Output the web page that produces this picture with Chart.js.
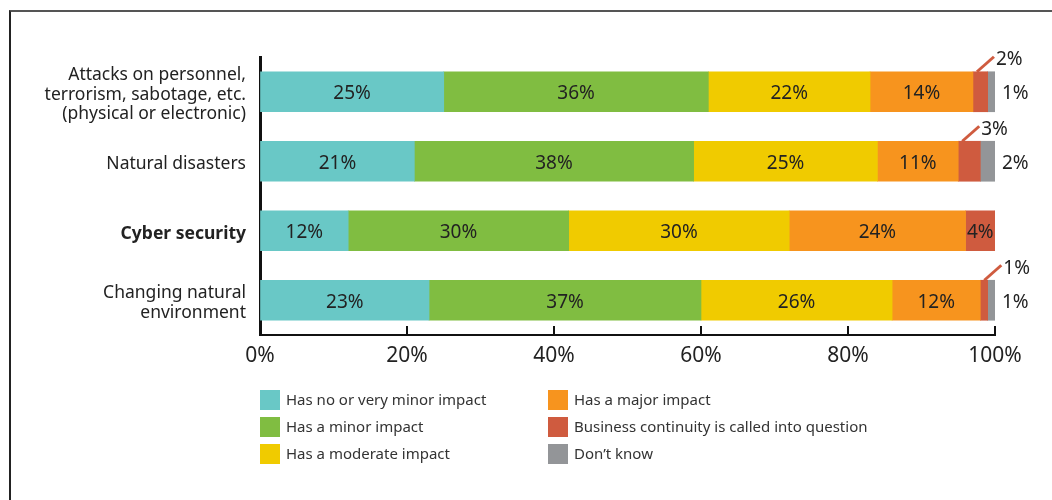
<!DOCTYPE html>
<html>
<head>
<meta charset="utf-8">
<script src="https://cdn.jsdelivr.net/npm/chart.js@4.4.0/dist/chart.umd.min.js"></script>
<style>
  body { margin: 0; background: #fff; }
  #wrap { position: relative; width: 1052px; height: 500px; }
  #frame { position: absolute; left: 9px; top: 10px; right: 0; bottom: 0;
           border-top: 2px solid #555; border-left: 2px solid #222; }
  canvas { position: absolute; left: 0; top: 0; }
</style>
</head>
<body>
<div id="wrap">
  <div id="frame"></div>
  <canvas id="myChart" width="1052" height="500"></canvas>
</div>
<script>
var FONT = "'Noto Sans', sans-serif";

// categories (top to bottom)
var categories = [
    ["Attacks on personnel,", "terrorism, sabotage, etc.", "(physical or electronic)"],
    "Natural disasters",
    "Cyber security",
    ["Changing natural", "environment"]
];

// series, values in %
var seriesNames = [
    "Has no or very minor impact",
    "Has a minor impact",
    "Has a moderate impact",
    "Has a major impact",
    "Business continuity is called into question",
    "Don\u2019t know"
];
var noImpact       = [25, 21, 12, 23];
var minorImpact    = [36, 38, 30, 37];
var moderateImpact = [22, 25, 30, 26];
var majorImpact    = [14, 11, 24, 12];
var continuity     = [2, 3, 4, 1];
var dontKnow       = [1, 2, 0, 1];

var seriesColors = ["#69c8c6", "#80bd41", "#f0cb00", "#f7941e", "#cf5b3f", "#939598"];

var xTicks = [0, 20, 40, 60, 80, 100];

var allValues = [noImpact, minorImpact, moderateImpact, majorImpact, continuity, dontKnow];

var datasets = [];
for (var i = 0; i < allValues.length; i++) {
    datasets.push({
        label: seriesNames[i],
        data: allValues[i],
        backgroundColor: seriesColors[i],
        borderWidth: 0,
        barThickness: 40
    });
}

/**
 * Value labels inside the bars, small ones outside with a leader line
 */
var valueLabels = {
    id: 'valueLabels',
    afterDatasetsDraw: function(chart) {
        var ctx = chart.ctx;
        ctx.save();
        ctx.font = "19px " + FONT;
        ctx.fillStyle = "#222";
        ctx.textBaseline = "middle";
        chart.data.datasets.forEach(function(ds, di) {
            var meta = chart.getDatasetMeta(di);
            meta.data.forEach(function(bar, k) {
                var v = ds.data[k];
                if (!v) return;
                var left = bar.base, right = bar.x, top = bar.y - bar.height / 2;
                var txt = v + "%";
                if (di == 5) {
                    ctx.textAlign = "left";
                    ctx.fillText(txt, right + 7, bar.y + 2);
                } else if (di == 4 && v < 4) {
                    var sx = left + 4, sy = top;
                    var ex = sx + 17, ey = sy - 15;
                    ctx.strokeStyle = ds.backgroundColor;
                    ctx.lineWidth = 3;
                    ctx.beginPath();
                    ctx.moveTo(sx, sy);
                    ctx.lineTo(ex, ey);
                    ctx.stroke();
                    ctx.textAlign = "left";
                    ctx.fillText(txt, ex + 2, ey + 3);
                } else {
                    ctx.textAlign = "center";
                    ctx.fillText(txt, (left + right) / 2, bar.y + 2);
                }
            });
        });
        ctx.restore();
    }
};

/**
 * Short tick marks pointing up from the x axis
 */
var innerTicks = {
    id: 'innerTicks',
    afterDraw: function(chart) {
        var ctx = chart.ctx;
        var xs = chart.scales.x;
        var bottom = chart.chartArea.bottom;
        ctx.save();
        ctx.strokeStyle = "#111";
        ctx.lineWidth = 2;
        xTicks.forEach(function(t) {
            var px = xs.getPixelForValue(t);
            ctx.beginPath();
            ctx.moveTo(px, bottom);
            ctx.lineTo(px, bottom - 9);
            ctx.stroke();
        });
        ctx.restore();
    }
};

/**
 * Legend in two columns of three
 */
var twoColLegend = {
    id: 'twoColLegend',
    afterDraw: function(chart) {
        var ctx = chart.ctx;
        var colX = [260, 548];
        var rowY = [390, 417, 444];
        ctx.save();
        ctx.font = "15px " + FONT;
        ctx.textBaseline = "middle";
        ctx.textAlign = "left";
        chart.data.datasets.forEach(function(ds, i) {
            var x = colX[Math.floor(i / 3)];
            var y = rowY[i % 3];
            ctx.fillStyle = ds.backgroundColor;
            ctx.fillRect(x, y, 20, 20);
            ctx.fillStyle = "#333";
            ctx.fillText(ds.label, x + 26, y + 11);
        });
        ctx.restore();
    }
};

var ctx = document.getElementById("myChart").getContext("2d");
var myChart = new Chart(ctx, {
    type: 'bar',
    data: { labels: categories, datasets: datasets },
    plugins: [valueLabels, innerTicks, twoColLegend],
    options: {
        indexAxis: 'y',
        responsive: false,
        animation: false,
        layout: { padding: { left: 10, right: 57, top: 57, bottom: 125 } },
        plugins: { legend: { display: false }, tooltip: { enabled: false } },
        scales: {
            x: {
                stacked: true,
                min: 0,
                max: 100,
                afterFit: function(scale) { scale.height = 40; },
                afterBuildTicks: function(scale) {
                    scale.ticks = xTicks.map(function(v) { return { value: v }; });
                },
                ticks: {
                    padding: 8,
                    color: "#222",
                    font: { family: FONT, size: 21 },
                    callback: function(v) { return v + "%"; }
                },
                grid: { drawOnChartArea: false, drawTicks: false },
                border: { color: "#111", width: 2 }
            },
            y: {
                stacked: true,
                afterFit: function(scale) { scale.width = 250; },
                ticks: {
                    padding: 14,
                    labelOffset: 3,
                    color: "#222",
                    font: function(c) {
                        return { family: FONT, size: 17.5, lineHeight: 1.12,
                                 weight: c.index == 2 ? 'bold' : 'normal' };
                    }
                },
                grid: { drawOnChartArea: false, drawTicks: false },
                border: { color: "#111", width: 3 }
            }
        }
    }
});
</script>
</body>
</html>
